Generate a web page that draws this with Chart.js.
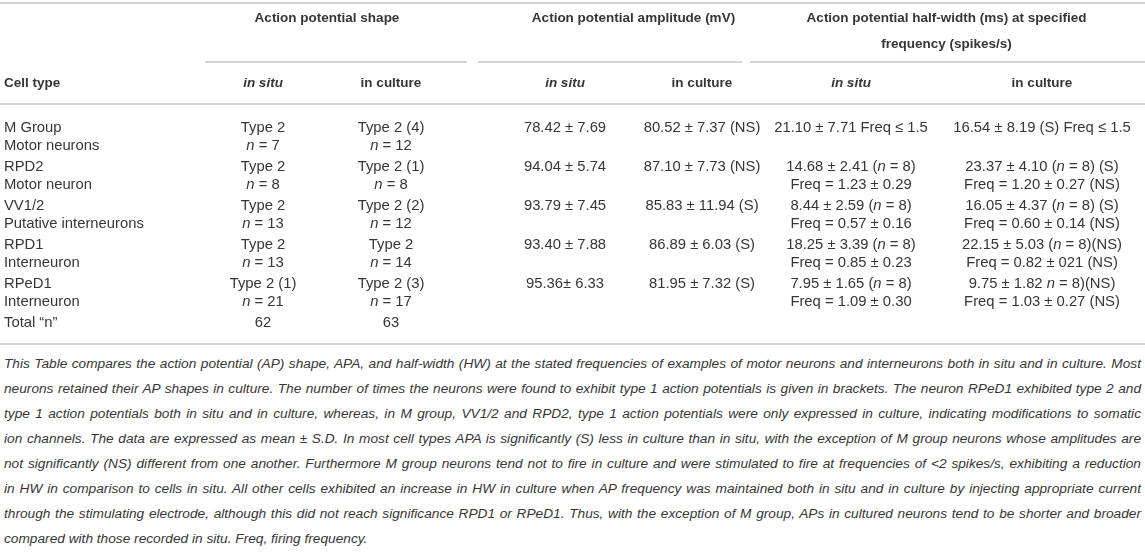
<!DOCTYPE html>
<html>
<head>
<meta charset="utf-8">
<script src="https://cdn.jsdelivr.net/npm/chart.js@4/dist/chart.umd.min.js"></script>
<style>
  html, body { margin: 0; padding: 0; background: #fff; }
  #wrap { position: relative; width: 1145px; height: 555px; overflow: hidden; }
  #tableChart { position: absolute; left: 0; top: 0; }
  #caption {
    position: absolute; left: 4px; top: 351px; width: 1137px;
    font-family: 'Liberation Sans', Arial, sans-serif; font-style: italic;
    font-size: 13.7px; line-height: 25px; color: #363636;
  }
  #caption div { white-space: nowrap; text-align: justify; text-align-last: justify; }
  #caption div:last-child { text-align-last: left; }
</style>
</head>
<body>
<div id="wrap">
  <canvas id="tableChart" width="1145" height="350"></canvas>
  <div id="caption"></div>
</div>
<script>
// Datos de la tabla
const cellTypes = ['M Group', 'RPD2', 'VV1/2', 'RPD1', 'RPeD1'];
const cellRoles = ['Motor neurons', 'Motor neuron', 'Putative interneurons', 'Interneuron', 'Interneuron'];
const shapeInSitu = ['Type 2', 'Type 2', 'Type 2', 'Type 2', 'Type 2 (1)'];
const shapeInCulture = ['Type 2 (4)', 'Type 2 (1)', 'Type 2 (2)', 'Type 2', 'Type 2 (3)'];
const nInSitu = [7, 8, 13, 13, 21];
const nInCulture = [12, 8, 12, 14, 17];
const apaInSitu = ['78.42 ± 7.69', '94.04 ± 5.74', '93.79 ± 7.45', '93.40 ± 7.88', '95.36± 6.33'];
const apaInCulture = ['80.52 ± 7.37 (NS)', '87.10 ± 7.73 (NS)', '85.83 ± 11.94 (S)', '86.89 ± 6.03 (S)', '81.95 ± 7.32 (S)'];
const hwInSitu = ['21.10 ± 7.71 Freq ≤ 1.5', '14.68 ± 2.41 (*n* = 8)', '8.44 ± 2.59 (*n* = 8)', '18.25 ± 3.39 (*n* = 8)', '7.95 ± 1.65 (*n* = 8)'];
const freqInSitu = ['', 'Freq = 1.23 ± 0.29', 'Freq = 0.57 ± 0.16', 'Freq = 0.85 ± 0.23', 'Freq = 1.09 ± 0.30'];
const hwInCulture = ['16.54 ± 8.19 (S) Freq ≤ 1.5', '23.37 ± 4.10 (*n* = 8) (S)', '16.05 ± 4.37 (*n* = 8) (S)', '22.15 ± 5.03 (*n* = 8)(NS)', '9.75 ± 1.82 *n* = 8)(NS)'];
const freqInCulture = ['', 'Freq = 1.20 ± 0.27 (NS)', 'Freq = 0.60 ± 0.14 (NS)', 'Freq = 0.82 ± 021 (NS)', 'Freq = 1.03 ± 0.27 (NS)'];
const totalLabel = 'Total “n”';
const totalN = [62, 63];

const groupHeaders = [['Action potential shape'], ['Action potential amplitude (mV)'], ['Action potential half-width (ms) at specified', 'frequency (spikes/s)']];
const subHeaders = ['*in situ*', 'in culture'];
const firstHeader = 'Cell type';

const captionLines = [
  'This Table compares the action potential (AP) shape, APA, and half-width (HW) at the stated frequencies of examples of motor neurons and interneurons both in situ and in culture. Most',
  'neurons retained their AP shapes in culture. The number of times the neurons were found to exhibit type 1 action potentials is given in brackets. The neuron RPeD1 exhibited type 2 and',
  'type 1 action potentials both in situ and in culture, whereas, in M group, VV1/2 and RPD2, type 1 action potentials were only expressed in culture, indicating modifications to somatic',
  'ion channels. The data are expressed as mean ± S.D. In most cell types APA is significantly (S) less in culture than in situ, with the exception of M group neurons whose amplitudes are',
  'not significantly (NS) different from one another. Furthermore M group neurons tend not to fire in culture and were stimulated to fire at frequencies of <2 spikes/s, exhibiting a reduction',
  'in HW in comparison to cells in situ. All other cells exhibited an increase in HW in culture when AP frequency was maintained both in situ and in culture by injecting appropriate current',
  'through the stimulating electrode, although this did not reach significance RPD1 or RPeD1. Thus, with the exception of M group, APs in cultured neurons tend to be shorter and broader',
  'compared with those recorded in situ. Freq, firing frequency.'
];

// Disposición (unidades de la escala = px)
const colCenters = [263, 391, 565, 702, 851, 1042];
const groupSpans = [[205, 467], [478, 742], [750, 1145]];
const rowTop = 128, rowStep = 39, lineStep = 18;
const textColor = '#363636';
const ruleColor = '#c4c4c4';
const fontFamily = "'Liberation Sans', Arial, sans-serif";

// Texto con segmentos en cursiva marcados con *...*
function drawRich(ctx, str, x, y, align, bold) {
  const parts = String(str).split('*');
  const size = bold ? '13.5px ' : '14.8px ';
  const fonts = parts.map((p, i) => (i % 2 ? 'italic ' : '') + (bold ? 'bold ' : '') + size + fontFamily);
  let total = 0;
  const widths = parts.map((p, i) => { ctx.font = fonts[i]; const w = ctx.measureText(p).width; total += w; return w; });
  let cx = align === 'left' ? x : x - total / 2;
  parts.forEach((p, i) => {
    ctx.font = fonts[i];
    ctx.fillText(p, cx, y);
    cx += widths[i];
  });
}

const tablePlugin = {
  id: 'tablePlugin',
  afterDraw(chart) {
    const ctx = chart.ctx;
    const xs = chart.scales.x, ys = chart.scales.y;
    const X = v => xs.getPixelForValue(v);
    const Y = v => ys.getPixelForValue(v);
    ctx.save();
    ctx.fillStyle = textColor;
    ctx.textBaseline = 'middle';
    ctx.textAlign = 'left';

    // Reglas horizontales
    ctx.strokeStyle = ruleColor;
    ctx.lineWidth = 1.5;
    const hline = (a, b, y) => { ctx.beginPath(); ctx.moveTo(X(a), Y(y)); ctx.lineTo(X(b), Y(y)); ctx.stroke(); };
    hline(0, 1145, 3);
    groupSpans.forEach(s => hline(s[0], s[1], 62));
    hline(0, 1145, 104);
    hline(0, 1145, 344);

    // Encabezados
    groupHeaders.forEach((lines, g) => {
      const cx = (colCenters[g * 2] + colCenters[g * 2 + 1]) / 2;
      lines.forEach((t, k) => drawRich(ctx, t, X(cx), Y(18 + k * 26), 'center', true));
    });
    drawRich(ctx, firstHeader, X(4), Y(83), 'left', true);
    colCenters.forEach((c, i) => drawRich(ctx, subHeaders[i % 2], X(c), Y(83), 'center', true));

    // Filas
    cellTypes.forEach((name, r) => {
      const y1 = rowTop + r * rowStep, y2 = y1 + lineStep;
      drawRich(ctx, name, X(4), Y(y1), 'left');
      drawRich(ctx, cellRoles[r], X(4), Y(y2), 'left');
      drawRich(ctx, shapeInSitu[r], X(colCenters[0]), Y(y1), 'center');
      drawRich(ctx, '*n* = ' + nInSitu[r], X(colCenters[0]), Y(y2), 'center');
      drawRich(ctx, shapeInCulture[r], X(colCenters[1]), Y(y1), 'center');
      drawRich(ctx, '*n* = ' + nInCulture[r], X(colCenters[1]), Y(y2), 'center');
      drawRich(ctx, apaInSitu[r], X(colCenters[2]), Y(y1), 'center');
      drawRich(ctx, apaInCulture[r], X(colCenters[3]), Y(y1), 'center');
      drawRich(ctx, hwInSitu[r], X(colCenters[4]), Y(y1), 'center');
      if (freqInSitu[r]) drawRich(ctx, freqInSitu[r], X(colCenters[4]), Y(y2), 'center');
      drawRich(ctx, hwInCulture[r], X(colCenters[5]), Y(y1), 'center');
      if (freqInCulture[r]) drawRich(ctx, freqInCulture[r], X(colCenters[5]), Y(y2), 'center');
    });
    const yt = rowTop + cellTypes.length * rowStep;
    drawRich(ctx, totalLabel, X(4), Y(yt), 'left');
    totalN.forEach((v, i) => drawRich(ctx, String(v), X(colCenters[i]), Y(yt), 'center'));
    ctx.restore();
  }
};

new Chart(document.getElementById('tableChart'), {
  type: 'scatter',
  data: { datasets: [] },
  options: {
    responsive: false,
    animation: false,
    layout: { padding: 0 },
    plugins: { legend: { display: false }, tooltip: { enabled: false } },
    scales: {
      x: { type: 'linear', display: false, min: 0, max: 1145 },
      y: { type: 'linear', display: false, min: 0, max: 350, reverse: true }
    }
  },
  plugins: [tablePlugin]
});

const cap = document.getElementById('caption');
captionLines.forEach(t => {
  const d = document.createElement('div');
  d.textContent = t;
  cap.appendChild(d);
});
</script>
</body>
</html>
